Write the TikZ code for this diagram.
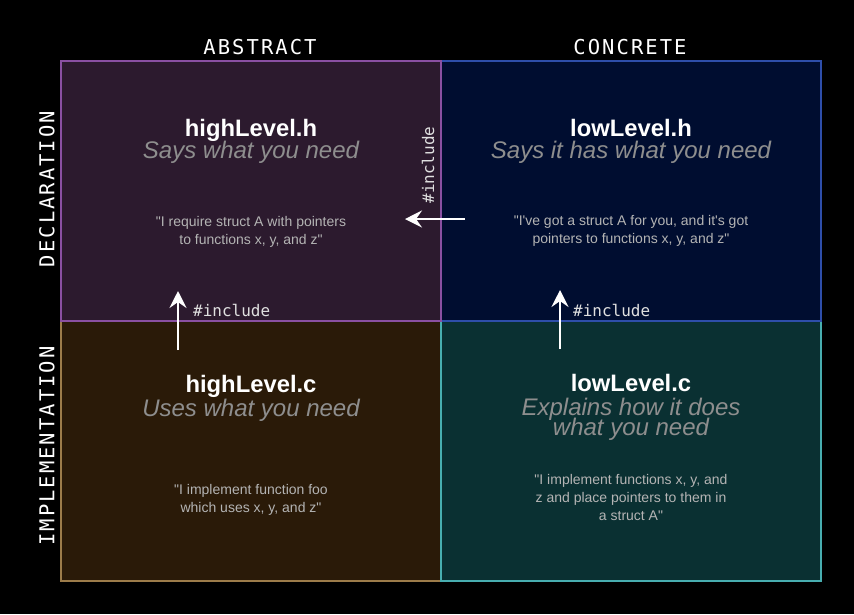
\documentclass[tikz,border=0pt]{standalone}
\usepackage{fontspec}
\setmainfont{Liberation Sans}
\newfontfamily\axisfont[LetterSpace=10]{DejaVu Sans Mono}
\newfontfamily\codefont{DejaVu Sans Mono}
\usetikzlibrary{arrows.meta}

\definecolor{absdeclfill}{HTML}{2C1A2E}
\definecolor{absdecledge}{HTML}{8A50A2}
\definecolor{condeclfill}{HTML}{000D30}
\definecolor{condecledge}{HTML}{2E4EAA}
\definecolor{absimplfill}{HTML}{2A1A08}
\definecolor{absimpledge}{HTML}{9C7C4A}
\definecolor{conimplfill}{HTML}{0A3032}
\definecolor{conimpledge}{HTML}{48AEB0}
\definecolor{subgrey}{HTML}{8E8E8E}
\definecolor{quotegrey}{HTML}{B4B4B4}

\newcommand{\dq}{\textquotedbl}
\newcommand{\sq}{\textquotesingle}

\tikzset{
  quad/.style={draw, line width=2pt, minimum width=380pt, minimum height=260pt, inner sep=0pt},
  axislabel/.style={text=white, font=\axisfont\fontsize{20.5}{21}\selectfont, inner sep=0pt},
  filename/.style={text=white, anchor=base, inner sep=0pt, font=\bfseries\fontsize{23.8}{24}\selectfont},
  role/.style={text=subgrey, anchor=base, inner sep=0pt, font=\itshape\fontsize{24}{20}\selectfont},
  % multi-line quotes: the base anchor sits on the last line
  quote/.style={text=quotegrey, anchor=base, inner sep=0pt, align=center, font=\fontsize{14}{18}\selectfont},
  conn/.style={draw=white, line width=2pt, -{Stealth[length=17pt,width=17pt,inset=6pt]}},
  codelabel/.style={text=white!88!black, inner sep=0pt, font=\codefont\fontsize{16}{18}\selectfont}
}

\begin{document}
\begin{tikzpicture}[x=1pt,y=-1pt]
\fill[black] (0,0) rectangle (854,614);
\useasboundingbox (0,0) rectangle (854,614);

% the four quadrants
\node[quad, draw=absimpledge, fill=absimplfill] (bl) at (251,451) {};
\node[quad, draw=conimpledge, fill=conimplfill] (br) at (631,451) {};
\node[quad, draw=condecledge, fill=condeclfill] (tr) at (631,191) {};
\node[quad, draw=absdecledge, fill=absdeclfill] (tl) at (251,191) {};

% axis headings
\node[axislabel] (abs) at (260,47) {ABSTRACT};
\node[axislabel] (con) at (630,47) {CONCRETE};
\node[axislabel, rotate=90] (decl) at (47,189) {DECLARATION};
\node[axislabel, rotate=90] (impl) at (47,446) {IMPLEMENTATION};

% highLevel.h
\node[filename] (tlname) at (251,136) {highLevel.h};
\node[role] (tlrole) at (251,158) {Says what you need};
\node[quote] (tlquote) at (251,244) {\dq I require struct A with pointers\\to functions x, y, and z\dq};

% lowLevel.h
\node[filename] (trname) at (631,136) {lowLevel.h};
\node[role] (trrole) at (631,158) {Says it has what you need};
\node[quote] (trquote) at (631,243) {\dq I\sq ve got a struct A for you, and it\sq s got\\pointers to functions x, y, and z\dq};

% highLevel.c
\node[filename] (blname) at (251,392) {highLevel.c};
\node[role] (blrole) at (251,416) {Uses what you need};
\node[quote] (blquote) at (251,512) {\dq I implement function foo\\which uses x, y, and z\dq};

% lowLevel.c
\node[filename] (brname) at (631,391) {lowLevel.c};
\node[role] (brrole) at (631,415) {Explains how it does};
\node[role] (brrolecont) at (631,435) {what you need};
\node[quote] (brquote) at (631,520) {\dq I implement functions x, y, and\\z and place pointers to them in\\a struct A\dq};

% include arrows
\coordinate (hfrom) at (465,219);
\coordinate (hto) at (405,219);
\draw[conn] (hfrom) -- (hto);
\node[codelabel, rotate=90] (hinc) at (428,165) {\#include};

\coordinate (lfrom) at (178,350);
\coordinate (lto) at (178,291);
\draw[conn] (lfrom) -- (lto);
\node[codelabel, anchor=base west] (linc) at (193,316) {\#include};

\coordinate (rfrom) at (560,349);
\coordinate (rto) at (560,290);
\draw[conn] (rfrom) -- (rto);
\node[codelabel, anchor=base west] (rinc) at (573,316) {\#include};
\end{tikzpicture}
\end{document}
